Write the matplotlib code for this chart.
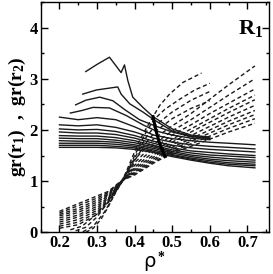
import matplotlib
matplotlib.use("Agg")
import matplotlib.pyplot as plt
import numpy as np
from matplotlib.ticker import MultipleLocator

# g(r1): solid curves, lowest temperature first
solid_rho = [
    [0.27, 0.30, 0.333, 0.364, 0.373, 0.382, 0.395, 0.422, 0.449, 0.50, 0.55, 0.60],
    [0.262, 0.298, 0.355, 0.364, 0.387, 0.422, 0.451, 0.50, 0.55, 0.60],
    [0.243, 0.27, 0.307, 0.342, 0.373, 0.413, 0.454, 0.50, 0.55, 0.60],
    [0.229, 0.26, 0.289, 0.333, 0.378, 0.422, 0.457, 0.50, 0.55, 0.60],
]
solid_g = [
    [3.14, 3.28, 3.42, 3.12, 3.27, 2.96, 2.64, 2.44, 2.26, 2.02, 1.90, 1.86],
    [2.70, 2.78, 2.84, 2.70, 2.51, 2.35, 2.20, 1.98, 1.88, 1.84],
    [2.49, 2.58, 2.64, 2.57, 2.40, 2.20, 2.08, 1.96, 1.87, 1.83],
    [2.33, 2.38, 2.44, 2.43, 2.28, 2.10, 1.98, 1.90, 1.84, 1.81],
]
grid = [0.20, 0.25, 0.30, 0.35, 0.40, 0.45, 0.50, 0.55, 0.60, 0.65, 0.72]
solid_grid_g = [
    [2.25, 2.20, 2.24, 2.20, 2.06, 1.90, 1.83, 1.79, 1.76, 1.74, 1.71],
    [2.10, 2.08, 2.10, 2.05, 1.96, 1.84, 1.76, 1.71, 1.68, 1.66, 1.63],
    [2.02, 2.00, 2.01, 1.97, 1.89, 1.78, 1.70, 1.65, 1.62, 1.60, 1.57],
    [1.96, 1.94, 1.94, 1.91, 1.84, 1.74, 1.65, 1.59, 1.56, 1.53, 1.50],
    [1.89, 1.88, 1.88, 1.85, 1.79, 1.70, 1.61, 1.55, 1.51, 1.49, 1.46],
    [1.84, 1.83, 1.83, 1.80, 1.75, 1.67, 1.58, 1.51, 1.47, 1.44, 1.41],
    [1.79, 1.78, 1.78, 1.76, 1.71, 1.64, 1.55, 1.48, 1.43, 1.40, 1.37],
    [1.74, 1.74, 1.74, 1.72, 1.68, 1.61, 1.52, 1.45, 1.40, 1.36, 1.33],
    [1.70, 1.70, 1.70, 1.68, 1.65, 1.58, 1.50, 1.43, 1.37, 1.33, 1.30],
    [1.66, 1.66, 1.66, 1.65, 1.62, 1.56, 1.48, 1.41, 1.35, 1.30, 1.26],
]

# g(r2): dashed curves
dashed_rho = [
    [0.27, 0.29, 0.31, 0.33, 0.35, 0.37, 0.39, 0.41, 0.43, 0.449, 0.467, 0.493, 0.529, 0.578],
    [0.262, 0.29, 0.32, 0.35, 0.37, 0.40, 0.43, 0.451, 0.48, 0.52, 0.56, 0.60],
    [0.243, 0.27, 0.30, 0.33, 0.365, 0.40, 0.43, 0.454, 0.50, 0.55, 0.60],
    [0.229, 0.26, 0.30, 0.33, 0.365, 0.40, 0.43, 0.457, 0.50, 0.55, 0.60],
]
dashed_g = [
    [0.00, 0.08, 0.25, 0.50, 0.80, 1.05, 1.40, 1.75, 2.02, 2.26, 2.48, 2.70, 2.93, 3.11],
    [0.01, 0.12, 0.40, 0.78, 1.03, 1.50, 1.95, 2.20, 2.40, 2.60, 2.78, 2.91],
    [0.03, 0.10, 0.30, 0.60, 1.00, 1.45, 1.85, 2.08, 2.35, 2.58, 2.75],
    [0.05, 0.12, 0.36, 0.64, 1.00, 1.40, 1.75, 1.98, 2.22, 2.42, 2.57],
]
dgrid = [0.20, 0.25, 0.30, 0.33, 0.365, 0.40, 0.45, 0.50, 0.55, 0.60, 0.65, 0.72]
dashed_grid_g = [
    [0.08, 0.15, 0.35, 0.58, 0.97, 1.42, 1.82, 2.08, 2.32, 2.60, 2.88, 3.25],
    [0.12, 0.20, 0.39, 0.61, 0.97, 1.36, 1.72, 1.98, 2.20, 2.44, 2.68, 3.00],
    [0.16, 0.25, 0.43, 0.64, 0.98, 1.31, 1.64, 1.90, 2.10, 2.32, 2.52, 2.80],
    [0.20, 0.30, 0.47, 0.67, 0.98, 1.27, 1.57, 1.82, 2.02, 2.22, 2.42, 2.68],
    [0.24, 0.34, 0.51, 0.69, 0.99, 1.24, 1.51, 1.76, 1.96, 2.15, 2.34, 2.59],
    [0.28, 0.39, 0.55, 0.72, 0.99, 1.21, 1.47, 1.71, 1.89, 2.07, 2.25, 2.48],
    [0.32, 0.43, 0.59, 0.74, 1.00, 1.18, 1.43, 1.66, 1.83, 2.00, 2.17, 2.38],
    [0.35, 0.47, 0.63, 0.76, 1.00, 1.16, 1.40, 1.62, 1.78, 1.94, 2.10, 2.30],
    [0.38, 0.52, 0.67, 0.78, 1.00, 1.14, 1.37, 1.58, 1.73, 1.88, 2.03, 2.22],
    [0.41, 0.56, 0.71, 0.80, 1.01, 1.12, 1.35, 1.55, 1.68, 1.82, 1.96, 2.13],
]

# locus where g(r1) = g(r2)
cross_rho = [0.449, 0.457, 0.466, 0.474, 0.481]
cross_g = [2.26, 1.98, 1.75, 1.60, 1.48]

plt.rcParams['font.family'] = ['Liberation Serif', 'DejaVu Serif']
plt.rcParams['font.weight'] = 'bold'
plt.rcParams['mathtext.fontset'] = 'custom'
plt.rcParams['mathtext.rm'] = 'Liberation Serif'
plt.rcParams['mathtext.it'] = 'Liberation Serif:italic'
plt.rcParams['mathtext.bf'] = 'Liberation Serif:bold'

fig = plt.figure(figsize=(2.73, 2.74), dpi=100)
ax = fig.add_axes([0.149, 0.152, 0.837, 0.841])

lw = 1.0
for r, g in zip(solid_rho, solid_g):
    ax.plot(r, g, color='#1a1a1a', lw=lw)
for g in solid_grid_g:
    ax.plot(grid, g, color='#1a1a1a', lw=lw)
for r, g in zip(dashed_rho, dashed_g):
    ax.plot(r, g, color='#1a1a1a', lw=lw, dashes=(3, 2))
for g in dashed_grid_g:
    ax.plot(dgrid, g, color='#1a1a1a', lw=lw, dashes=(3, 2))
ax.plot(cross_rho, cross_g, color='black', lw=2.2)

ax.set_xlim(0.15, 0.758)
ax.set_ylim(0, 4.5)
ax.xaxis.set_major_locator(MultipleLocator(0.1))
ax.xaxis.set_minor_locator(MultipleLocator(0.05))
ax.yaxis.set_major_locator(MultipleLocator(1))
ax.yaxis.set_minor_locator(MultipleLocator(0.5))
ax.tick_params(which='both', direction='in', top=True, right=True, width=1.0)
ax.tick_params(which='major', length=5, labelsize=12, pad=2)
ax.tick_params(which='minor', length=2.5)
for s in ax.spines.values():
    s.set_linewidth(1.0)

ax.set_ylabel('gr(r$_\\mathbf{1}$)  ,  gr(r$_\\mathbf{2}$)', fontsize=14, fontweight='bold', labelpad=1)
ax.set_xlabel('ρ$^*$', fontsize=14, fontweight='normal', labelpad=-1, family='DejaVu Sans')
ax.text(0.975, 0.93, 'R$_\\mathbf{1}$', transform=ax.transAxes, ha='right', va='top',
        fontsize=16, fontweight='bold')

fig.savefig('out.png', dpi=100)
